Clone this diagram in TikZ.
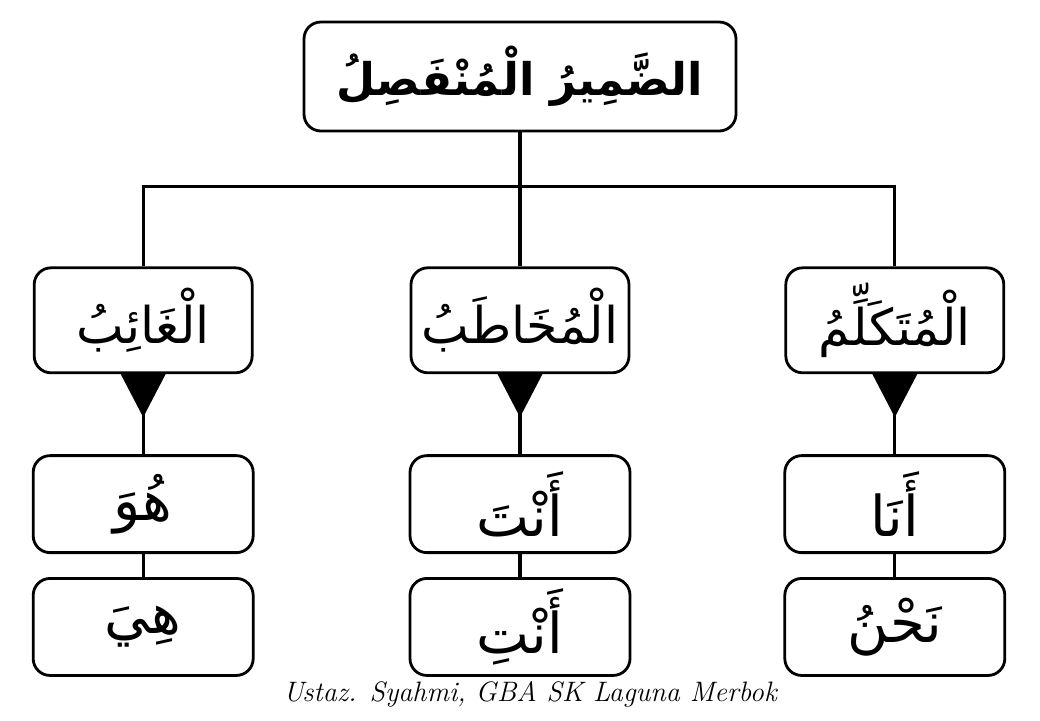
\documentclass[tikz,border=0pt]{standalone}
\usepackage{fontspec}
\usepackage{tikz}
\usetikzlibrary{positioning, calc}
\TeXXeTstate=1
\newfontfamily\arabicfont[Script=Arabic]{DejaVu Sans}

\begin{document}
\begin{tikzpicture}[
    headbox/.style={draw, line width=2pt, rounded corners=12pt, minimum width=10.8cm,
        minimum height=2.725cm, font=\arabicfont\bfseries\fontsize{32}{38}\selectfont, inner sep=0pt},
    groupbox/.style={draw, line width=2pt, rounded corners=12pt, minimum width=5.45cm,
        minimum height=2.625cm, font=\arabicfont\fontsize{36}{40}\selectfont, inner sep=0pt},
    pronbox/.style={draw, line width=2pt, rounded corners=12pt, minimum width=5.5cm,
        minimum height=2.425cm, font=\arabicfont\fontsize{40}{44}\selectfont, inner sep=0pt},
    link/.style={line width=2.2pt},
    credit/.style={font=\itshape\fontsize{20}{24}\selectfont},
]
\useasboundingbox (0,0) rectangle (26,-18);
\node[headbox] (dm) at (13,-1.9125) {\beginR الضَّمِيرُ الْمُنْفَصِلُ\endR};
\node[groupbox, below=3.35cm of dm] (mk) {\beginR الْمُخَاطَبُ\endR};
\node[groupbox, left=3.9cm of mk]   (gh) {\beginR الْغَائِبُ\endR};
\node[groupbox, right=3.85cm of mk] (mt) {\beginR الْمُتَكَلِّمُ\endR};
\node[pronbox, below=2cm of gh]     (gh1) {\beginR هُوَ\endR};
\node[pronbox, below=0.575cm of gh1] (gh2) {\beginR هِيَ\endR};
\node[pronbox, below=2cm of mk]     (mk1) {\beginR أَنْتَ\endR};
\node[pronbox, below=0.575cm of mk1] (mk2) {\beginR أَنْتِ\endR};
\node[pronbox, below=2cm of mt]     (mt1) {\beginR أَنَا\endR};
\node[pronbox, below=0.575cm of mt1] (mt2) {\beginR نَحْنُ\endR};
% tree lines
\coordinate (j) at ($(dm.south)+(0,-1.35)$);
\draw[link] (dm) -- (mk);
\draw[link] (gh.north) |- (j) -| (mt.north);
% pointers under each group
\fill ($(gh.south)+(-0.56,0)$) -- ($(gh.south)+(0.56,0)$) -- ($(gh.south)+(0,-1.075)$) -- cycle;
\fill ($(mk.south)+(-0.56,0)$) -- ($(mk.south)+(0.56,0)$) -- ($(mk.south)+(0,-1.075)$) -- cycle;
\fill ($(mt.south)+(-0.56,0)$) -- ($(mt.south)+(0.56,0)$) -- ($(mt.south)+(0,-1.075)$) -- cycle;
\draw[link] (gh) -- (gh1); \draw[link] (gh1) -- (gh2);
\draw[link] (mk) -- (mk1); \draw[link] (mk1) -- (mk2);
\draw[link] (mt) -- (mt1); \draw[link] (mt1) -- (mt2);
\node[credit] (cr) at (13.25,-17.35) {Ustaz. Syahmi, GBA SK Laguna Merbok};
\end{tikzpicture}
\end{document}
